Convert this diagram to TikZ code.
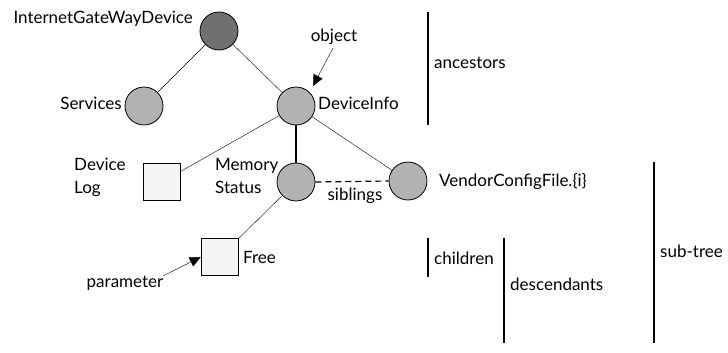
\documentclass[tikz,border=0pt]{standalone}
\usepackage{fontspec}
\setmainfont{Lato}
\usetikzlibrary{arrows.meta,positioning}
\definecolor{tgdark}{HTML}{707070}
\definecolor{tglight}{HTML}{B2B2B2}
\definecolor{tgbox}{HTML}{F4F4F4}

\begin{document}
\begin{tikzpicture}[x=1pt,y=-1pt,>={Triangle[length=11pt,width=10pt]},
    obj/.style={circle,draw,line width=0.8pt,fill=tglight,minimum size=38pt,inner sep=0pt},
    par/.style={rectangle,draw,line width=1.6pt,fill=tgbox,minimum size=37pt,inner sep=0pt},
    lbl/.style={inner sep=0pt,font=\fontsize{17}{23}\selectfont},
    bar/.style={line width=1.6pt}]
  \useasboundingbox (0,0) rectangle (728,353);
  % tree
  \node[obj,fill=tgdark] (gw) at (219,31) {};
  \node[obj] (services) at (144,106) {};
  \node[obj] (devinfo) at (296,106) {};
  \node[par] (devlog) at (162,182) {};
  \node[obj] (memstat) at (296,182) {};
  \node[obj] (vendor) at (408,181) {};
  \node[par] (free) at (220,257) {};
  \draw (gw) -- (services);
  \draw (gw) -- (devinfo);
  \draw (devinfo) -- (devlog);
  \draw[line width=1.8pt] (devinfo) -- (memstat);
  \draw (devinfo) -- (vendor);
  \draw (memstat) -- (free);
  \draw[line width=1.2pt,dash pattern=on 6pt off 4pt] (memstat.east) -- (vendor.west);
  % labels
  \node[lbl,anchor=base east] (gwlbl) at (193,24) {InternetGateWayDevice};
  \node[lbl,anchor=base east] (srvlbl) at (122,110) {Services};
  \node[lbl,anchor=base west] (dilbl) at (318,110) {DeviceInfo};
  \node[lbl,anchor=north west,align=left] (dllbl) at (74,158) {Device\\Log};
  \node[lbl,anchor=north west,align=left] (mslbl) at (215,158) {Memory\\Status};
  \node[lbl,anchor=base west] (vclbl) at (439,186) {VendorConfigFile.\{i\}};
  \node[lbl,anchor=base west] (frlbl) at (243,263) {Free};
  \node[lbl,anchor=base] (siblbl) at (355,200) {siblings};
  \node[lbl,anchor=base] (objlbl) at (334,42) {object};
  \node[lbl,anchor=base] (parlbl) at (125,287) {parameter};
  \coordinate (objtail) at (333,48);
  \coordinate (objtip) at (313,86);
  \coordinate (partail) at (163,276);
  \draw[->] (objtail) -- (objtip);
  \draw[->] (partail) -- (free.west);
  % scope bars
  \foreach \x/\ya/\yb/\yt/\t in {428/12/125/68/ancestors,428/238/277/264/children,
      504/238/343/290/descendants,654/162/343/257/sub-tree}{
    \draw[bar] (\x,\ya) -- (\x,\yb);
    \node[lbl,anchor=base west] at (\x+6,\yt) {\t};
  }
\end{tikzpicture}
\end{document}
